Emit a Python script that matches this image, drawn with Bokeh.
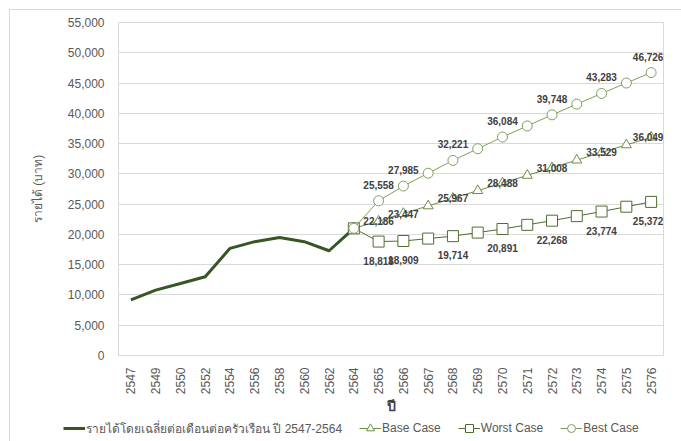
from math import pi
from bokeh.plotting import figure
from bokeh.layouts import column, row
from bokeh.models import (FactorRange, Range1d, NumeralTickFormatter, SingleIntervalTicker,
                          Legend, LegendItem)
from bokeh.embed import file_html
from bokeh.resources import INLINE
from bokeh.core.properties import value

years = ["2547", "2549", "2550", "2552", "2554", "2556", "2558", "2560", "2562", "2564",
         "2565", "2566", "2567", "2568", "2569", "2570", "2571", "2572", "2573", "2574",
         "2575", "2576"]

hist_years = ["2547", "2549", "2550", "2552", "2554", "2556", "2558", "2560", "2562", "2564"]
hist_values = [9200, 10800, 11900, 13000, 17700, 18800, 19500, 18800, 17300, 21000]

proj_years = ["2564", "2565", "2566", "2567", "2568", "2569", "2570", "2571", "2572",
              "2573", "2574", "2575", "2576"]
base_values = [21000, 22186, 23447, 24707, 25967, 27228, 28488, 29748, 31008, 32269,
               33529, 34789, 36049]
worst_values = [21000, 18818, 18909, 19311, 19714, 20302, 20891, 21580, 22268, 23021,
                23774, 24573, 25372]
best_values = [21000, 25558, 27985, 30103, 32221, 34152, 36084, 37916, 39748, 41515,
               43283, 45005, 46726]

label_years = ["2565", "2566", "2568", "2570", "2572", "2574", "2576"]

hist_label = "รายได้โดยเฉลี่ยต่อเดือนต่อครัวเรือน ปี 2547-2564"
series_labels = ["Base Case", "Worst Case", "Best Case"]
y_title = "รายได้ (บาท)"
x_title = "ปี"

C_HIST = "#375623"
C_BASE = "#6b8f45"
C_WORST = "#4e6e30"
C_BEST = "#7fa05c"
FONT = "Liberation Sans"
GRID = "#d9d9d9"

p = figure(width=681, height=418, x_range=FactorRange(*years), y_range=Range1d(0, 55000),
           output_backend="svg", toolbar_location=None,
           min_border_left=118, min_border_right=18, min_border_top=22, min_border_bottom=63)
p.background_fill_color = "white"
p.border_fill_color = None
p.styles = {
    "background": f"linear-gradient({GRID}, {GRID}) 9px 9px / 1px 100% no-repeat, "
                  f"linear-gradient({GRID}, {GRID}) 9px 9px / 100% 1px no-repeat, white"
}
p.outline_line_color = GRID
p.outline_line_width = 1

p.xgrid.grid_line_color = None
p.ygrid.grid_line_color = GRID
p.ygrid.grid_line_width = 1

p.yaxis.ticker = SingleIntervalTicker(interval=5000, num_minor_ticks=0)
p.yaxis.formatter = NumeralTickFormatter(format="0,0")
for ax in (p.xaxis[0], p.yaxis[0]):
    ax.axis_line_color = None
    ax.major_tick_line_color = None
    ax.minor_tick_line_color = None
    ax.major_tick_out = 0
    ax.major_tick_in = 0
    ax.major_label_text_font = FONT
    ax.major_label_text_font_size = "12px"
    ax.major_label_text_color = "#595959"
    ax.axis_label_text_font = FONT
    ax.axis_label_text_color = "#595959"

p.yaxis.major_label_standoff = 14
p.yaxis.axis_label = y_title
p.yaxis.axis_label_text_font_size = "12px"
p.yaxis.axis_label_text_font_style = "normal"
p.yaxis.axis_label_standoff = 20

p.xaxis.major_label_orientation = pi / 2
p.xaxis.major_label_standoff = 12
p.xaxis.axis_label = x_title
p.xaxis.axis_label_text_font_size = "14px"
p.xaxis.axis_label_text_font_style = "bold"
p.xaxis.axis_label_text_color = "#404040"
p.xaxis.axis_label_standoff = 1

p.line(hist_years, hist_values, line_color=C_HIST, line_width=3, line_join="round")

p.line(proj_years, base_values, line_color=C_BASE, line_width=1)
p.scatter(proj_years, base_values, marker="triangle", size=10,
          fill_color="white", line_color=C_BASE, line_width=1)
p.line(proj_years, worst_values, line_color=C_WORST, line_width=1)
p.scatter(proj_years, worst_values, marker="square", size=11,
          fill_color="white", line_color=C_WORST, line_width=1)
p.line(proj_years, best_values, line_color=C_BEST, line_width=1)
p.scatter(proj_years, best_values, marker="circle", size=10,
          fill_color="white", line_color=C_BEST, line_width=1)

def labels(vals, dy):
    lv = [vals[proj_years.index(y)] for y in label_years]
    # nudge the last label left so it is not cut by the plot frame
    dx = [0] * (len(lv) - 1) + [-3]
    p.text(x=label_years, y=lv, text=[f"{v:,}" for v in lv], x_offset=dx, y_offset=dy,
           text_align="center", text_baseline="middle", text_font=value(FONT),
           text_font_size="10px", text_font_style="bold", text_color="#404040")

labels(base_values, 0)
labels(worst_values, 19)
labels(best_values, -16)

# legend strip below the chart
lg = figure(width=681, height=23, x_range=Range1d(0, 1), y_range=Range1d(0, 1),
            output_backend="svg", toolbar_location=None,
            x_axis_location=None, y_axis_location=None,
            min_border_left=0, min_border_right=0, min_border_top=0, min_border_bottom=0)
lg.grid.visible = False
lg.outline_line_color = None
lg.background_fill_color = None
lg.border_fill_color = None
lg.styles = {"background": f"linear-gradient({GRID}, {GRID}) 9px 0px / 1px 100% no-repeat, white"}

h = lg.line([-5, -4], [-5, -4], line_color=C_HIST, line_width=3)
b1 = lg.line([-5, -4], [-5, -4], line_color=C_BASE, line_width=1)
b2 = lg.scatter([-5], [-5], marker="triangle", fill_color="white", line_color=C_BASE)
w1 = lg.line([-5, -4], [-5, -4], line_color=C_WORST, line_width=1)
w2 = lg.scatter([-5], [-5], marker="square", fill_color="white", line_color=C_WORST)
s1 = lg.line([-5, -4], [-5, -4], line_color=C_BEST, line_width=1)
s2 = lg.scatter([-5], [-5], marker="circle", fill_color="white", line_color=C_BEST)

legend = Legend(items=[LegendItem(label=hist_label, renderers=[h]),
                       LegendItem(label=series_labels[0], renderers=[b1, b2]),
                       LegendItem(label=series_labels[1], renderers=[w1, w2]),
                       LegendItem(label=series_labels[2], renderers=[s1, s2])],
                location=(63, 3), orientation="horizontal", padding=0, margin=0,
                spacing=17, glyph_width=22, glyph_height=20, label_height=20,
                label_standoff=1, label_text_font=FONT, label_text_font_size="12px",
                label_text_color="#595959", label_text_baseline="middle",
                background_fill_alpha=0, border_line_alpha=0)
lg.add_layout(legend)

layout = column(p, row(lg), spacing=0)
open("out.html", "w").write(file_html(layout, INLINE))
